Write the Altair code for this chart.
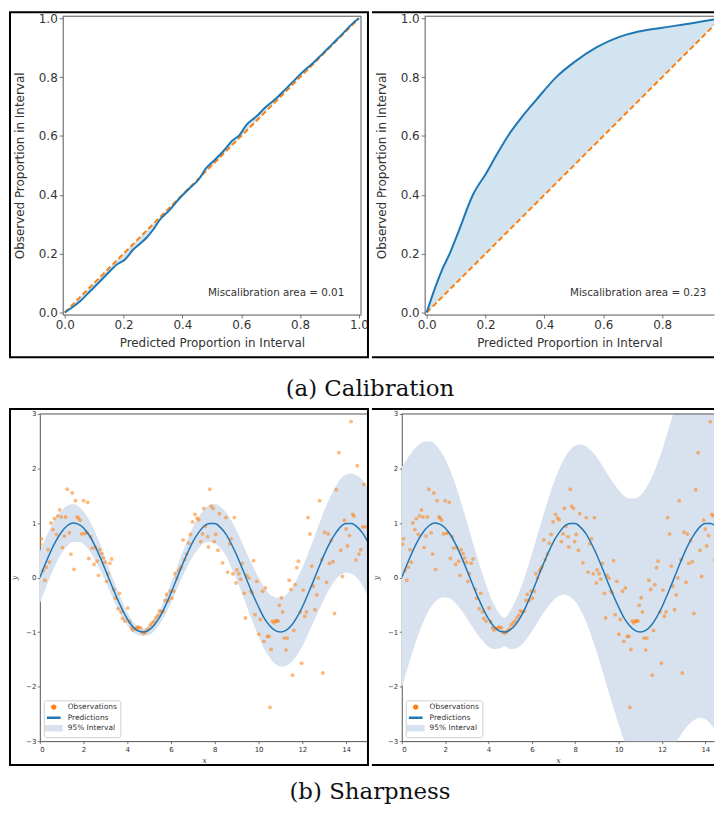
import altair as alt
import pandas as pd

cal_left_x = [0.0, 0.025, 0.053, 0.087, 0.121, 0.154, 0.177, 0.205, 0.233, 0.256,
              0.278, 0.301, 0.324, 0.357, 0.391, 0.425, 0.459, 0.476, 0.504, 0.538,
              0.572, 0.594, 0.617, 0.650, 0.684, 0.718, 0.752, 0.786, 0.808, 0.842,
              0.876, 0.910, 0.944, 0.977, 1.0]
cal_left_y = [0.0, 0.017, 0.039, 0.073, 0.107, 0.141, 0.163, 0.180, 0.214, 0.234,
              0.254, 0.282, 0.316, 0.349, 0.389, 0.423, 0.457, 0.485, 0.513, 0.547,
              0.586, 0.603, 0.637, 0.665, 0.699, 0.727, 0.761, 0.795, 0.817, 0.846,
              0.879, 0.913, 0.947, 0.981, 1.0]
cal_right_x = [0.0, 0.02, 0.05, 0.078, 0.11, 0.157, 0.2, 0.24, 0.276, 0.32,
               0.37, 0.44, 0.5, 0.575, 0.65, 0.72, 0.8, 0.9, 1.0]
cal_right_y = [0.0, 0.06, 0.14, 0.20, 0.28, 0.40, 0.47, 0.54, 0.60, 0.66,
               0.72, 0.80, 0.85, 0.90, 0.935, 0.955, 0.968, 0.983, 1.0]
diag = [0.0, 1.0]
cal_labels = ["Miscalibration area = 0.01", "Miscalibration area = 0.23"]

grid_x = [0.0, 0.25, 0.5, 0.75, 1.0, 1.25, 1.5, 1.75, 2.0, 2.25, 2.5, 2.75, 3.0, 3.25,
          3.5, 3.75, 4.0, 4.25, 4.5, 4.75, 5.0, 5.25, 5.5, 5.75, 6.0, 6.25, 6.5, 6.75,
          7.0, 7.25, 7.5, 7.75, 8.0, 8.25, 8.5, 8.75, 9.0, 9.25, 9.5, 9.75, 10.0, 10.25,
          10.5, 10.75, 11.0, 11.25, 11.5, 11.75, 12.0, 12.25, 12.5, 12.75, 13.0, 13.25,
          13.5, 13.75, 14.0, 14.25, 14.5, 14.75, 15.0]
pred = [0.00, 0.25, 0.48, 0.68, 0.84, 0.95, 1.00, 0.98, 0.91, 0.78, 0.60, 0.38, 0.14, -0.11,
        -0.35, -0.57, -0.76, -0.90, -0.98, -1.00, -0.96, -0.86, -0.71, -0.51, -0.28, -0.03,
        0.22, 0.45, 0.66, 0.82, 0.94, 0.99, 0.99, 0.92, 0.80, 0.62, 0.41, 0.17, -0.08, -0.32,
        -0.54, -0.74, -0.88, -0.97, -1.00, -0.97, -0.88, -0.73, -0.54, -0.31, -0.07, 0.18,
        0.42, 0.63, 0.80, 0.93, 0.99, 0.99, 0.93, 0.82, 0.65]
half_left = [0.48, 0.46, 0.44, 0.42, 0.39, 0.37, 0.35, 0.33, 0.30, 0.28, 0.26, 0.24, 0.21,
             0.19, 0.17, 0.15, 0.12, 0.10, 0.08, 0.07, 0.09, 0.11, 0.13, 0.16, 0.18, 0.20,
             0.22, 0.25, 0.27, 0.29, 0.31, 0.34, 0.36, 0.38, 0.40, 0.43, 0.45, 0.47, 0.49,
             0.52, 0.54, 0.56, 0.58, 0.61, 0.63, 0.65, 0.67, 0.70, 0.72, 0.74, 0.76, 0.79,
             0.81, 0.83, 0.85, 0.88, 0.90, 0.92, 0.94, 0.97, 0.99]
half_right = [2.03, 1.93, 1.84, 1.74, 1.65, 1.55, 1.46, 1.36, 1.27, 1.17, 1.08, 0.98, 0.89,
              0.79, 0.70, 0.60, 0.51, 0.41, 0.32, 0.26, 0.35, 0.44, 0.53, 0.62, 0.71, 0.80,
              0.89, 0.98, 1.07, 1.16, 1.25, 1.34, 1.43, 1.52, 1.61, 1.70, 1.79, 1.88, 1.97,
              2.06, 2.15, 2.24, 2.33, 2.42, 2.51, 2.60, 2.69, 2.78, 2.87, 2.96, 3.05, 3.14,
              3.23, 3.32, 3.41, 3.50, 3.59, 3.68, 3.77, 3.86, 3.95]

obs_x = [0.03, 0.08, 0.15, 0.23, 0.30, 0.38, 0.44, 0.51, 0.60, 0.67, 0.76, 0.82, 0.91, 0.98,
         1.03, 1.12, 1.18, 1.25, 1.35, 1.42, 1.48, 1.56, 1.63, 1.71, 1.77, 1.84, 1.92, 2.00,
         2.06, 2.15, 2.19, 2.24, 2.33, 2.39, 2.48, 2.54, 2.62, 2.68, 2.74, 2.83, 2.90, 2.98,
         3.05, 3.11, 3.20, 3.28, 3.39, 3.45, 3.57, 3.64, 3.72, 3.78, 3.89, 4.02, 4.10, 4.19,
         4.25, 4.37, 4.45, 4.50, 4.60, 4.67, 4.75, 4.82, 4.90, 4.97, 5.05, 5.14, 5.22, 5.31,
         5.40, 5.47, 5.56, 5.64, 5.73, 5.79, 5.87, 5.97, 6.03, 6.12, 6.18, 6.26, 6.35, 6.41,
         6.47, 6.55, 6.62, 6.71, 6.80, 6.89, 6.98, 7.09, 7.18, 7.26, 7.36, 7.44, 7.50, 7.57,
         7.67, 7.71, 7.77, 7.83, 7.92, 7.97, 8.04, 8.15, 8.21, 8.35, 8.51, 8.59, 8.68, 8.75,
         8.83, 8.89, 8.97, 9.01, 9.10, 9.18, 9.25, 9.34, 9.40, 9.46, 9.56, 9.65, 9.71, 9.77,
         9.84, 9.92, 10.01, 10.08, 10.18, 10.24, 10.31, 10.40, 10.48, 10.52, 10.57, 10.63,
         10.70, 10.77, 10.83, 10.89, 10.95, 11.04, 11.10, 11.17, 11.25, 11.31, 11.40, 11.48,
         11.55, 11.61, 11.67, 11.75, 11.82, 11.91, 11.97, 12.04, 12.11, 12.19, 12.26, 12.35,
         12.43, 12.50, 12.58, 12.66, 12.73, 12.79, 12.88, 12.94, 13.02, 13.11, 13.18, 13.24,
         13.32, 13.40, 13.47, 13.55, 13.67, 13.76, 13.83, 13.92, 14.00, 14.06, 14.15, 14.23,
         14.30, 14.36, 14.44, 14.51, 14.59, 14.67, 14.76, 14.82, 14.88]
obs_y = [0.61, 0.71, 0.13, -0.05, 0.19, 0.51, 0.28, 1.00, 0.88, 1.08, 0.79, 1.13, 1.24, 1.11,
         0.55, 0.76, 1.11, 1.62, 0.82, 0.43, 1.55, 0.15, 1.41, 1.11, 1.09, 1.05, 0.80, 1.41,
         0.81, 0.82, 1.38, 0.35, 0.75, 0.54, 0.24, 0.55, 0.30, 0.04, 0.51, 0.44, 0.36, 0.28,
         -0.07, 0.07, 0.26, 0.34, -0.22, -0.38, -0.57, -0.29, -0.63, -0.75, -0.80, -0.56, -0.81,
         -0.92, -0.96, -0.94, -0.92, -0.91, -0.92, -1.00, -1.02, -1.00, -0.97, -0.94, -0.87,
         -0.83, -0.80, -0.74, -0.69, -0.61, -0.63, -0.62, -0.42, -0.31, -0.42, -0.25, -0.38,
         -0.25, 0.07, -0.01, 0.12, 0.16, 0.20, 0.69, 0.33, 0.43, 0.63, 0.79, 1.02, 1.16, 1.09,
         1.06, 0.66, 0.80, 1.27, 0.94, 0.75, 0.56, 1.62, 1.31, 1.27, 0.66, 0.79, 0.50, 1.17,
         0.27, 1.10, 0.10, 0.62, 0.71, 0.07, 1.10, -0.10, 0.14, 0.07, -0.03, 0.26, -0.29, -0.74,
         0.04, -0.01, -0.25, -0.28, 0.31, -0.68, -0.07, -1.04, -0.77, -0.25, -1.17, -0.19, -1.08,
         -1.08, -2.38, -1.32, -0.80, -0.83, -0.80, -0.79, -0.80, -0.51, -0.37, -0.63, -1.11,
         -1.33, -1.11, -0.05, -0.22, -1.79, -0.97, -0.13, 0.18, 0.30, -0.63, -1.57, -0.23, -0.71,
         -0.63, 1.10, 0.80, 0.21, -0.16, -0.59, -0.32, -0.01, 1.41, 0.33, -1.75, 0.83, -0.09,
         0.80, 0.26, 0.68, 0.29, -0.66, 1.61, 2.29, 0.50, 0.02, 1.05, 0.89, 0.58, 0.77, 2.86,
         1.16, 1.13, 0.32, 2.05, 0.43, 0.51, 0.93, 1.71, 0.93]

series = ["Observations", "Predictions", "95% Interval"]
cal_ticks = [0.0, 0.2, 0.4, 0.6, 0.8, 1.0]
sh_xticks = [0, 2, 4, 6, 8, 10, 12, 14]
sh_yticks = [-3, -2, -1, 0, 1, 2, 3]

BLUE = "#1f77b4"
ORANGE = "#ff7f0e"
BAND = "#d8e2ef"
SPINE = "#555555"
TXT = "#333333"
FONT = "DejaVu Sans"
one = pd.DataFrame({"k": [0]})


def cal_panel(cx, cy, label, pw, lead, xmax, xticks, closed):
    h = 300
    gw = lead + pw
    df = pd.DataFrame({"x": cx, "y": cy})
    ddf = pd.DataFrame({"x": diag, "y": diag})
    tdf = pd.DataFrame({"x": [0.95], "y": [0.065], "t": [label]})
    xs = alt.Scale(domain=[-0.007, xmax], range=[lead, gw], nice=False, zero=False)
    ys = alt.Scale(domain=[-0.007, 1.007], nice=False, zero=False)
    xa = alt.Axis(values=xticks, format=".1f", title="Predicted Proportion in Interval",
                  tickSize=3.5, labelFontSize=12, titleFontSize=12, titlePadding=7,
                  labelPadding=2)
    yargs = dict(values=cal_ticks, format=".1f", title="Observed Proportion in Interval",
                 tickSize=3.5, labelFontSize=12, titleFontSize=12, titlePadding=12,
                 labelPadding=2)
    if lead:
        yargs["offset"] = -lead
    X = alt.X("x:Q", scale=xs, axis=xa)
    Y = alt.Y("y:Q", scale=ys, axis=alt.Axis(**yargs))
    area = alt.Chart(df).mark_area(color=BLUE, opacity=0.2, clip=True,
                                   interpolate="monotone").encode(x=X, y=Y, y2=alt.Y2("x:Q"))
    dline = alt.Chart(ddf).mark_line(color=ORANGE, strokeDash=[5.5, 3], strokeWidth=2,
                                     clip=True).encode(x=X, y=Y)
    curve = alt.Chart(df).mark_line(color=BLUE, strokeWidth=2, clip=True,
                                    interpolate="monotone").encode(x=X, y=Y)
    txt = alt.Chart(tdf).mark_text(align="right", baseline="middle", fontSize=10.4, font=FONT,
                                   color=TXT).encode(x=X, y=Y, text="t:N")
    top = alt.Chart(one).mark_rule(color=SPINE, strokeWidth=1).encode(
        x=alt.value(lead), x2=alt.value(gw), y=alt.value(0))
    layers = [area, dline, curve, txt, top]
    if closed:
        right = alt.Chart(one).mark_rule(color=SPINE, strokeWidth=1).encode(
            x=alt.value(gw), y=alt.value(0), y2=alt.value(h))
        frame = alt.Chart(one).mark_rect(fillOpacity=0, stroke="black", strokeWidth=2).encode(
            x=alt.value(lead - 53), x2=alt.value(lead + 307), y=alt.value(-4), y2=alt.value(343))
        layers += [right, frame]
    else:
        for yy in (-4, 343):
            layers.append(alt.Chart(one).mark_rule(color="black", strokeWidth=2).encode(
                x=alt.value(-53), x2=alt.value(gw), y=alt.value(yy)))
    return alt.layer(*layers).properties(width=gw, height=h)


def sh_axis(title, values, pad):
    return alt.Axis(values=values, title=title, tickSize=2.5,
                    labelFontSize=7, titleFontSize=8, titleFontStyle="italic",
                    titleFont="DejaVu Serif", labelPadding=1.5, titlePadding=pad)


def sharp_panel(half, w, xmax, closed):
    h = 329
    band = pd.DataFrame({"x": grid_x,
                         "y": [p - d for p, d in zip(pred, half)],
                         "hi": [p + d for p, d in zip(pred, half)],
                         "s": "95% Interval"})
    pdf = pd.DataFrame({"x": grid_x, "y": pred, "s": "Predictions"})
    odf = pd.DataFrame({"x": obs_x, "y": obs_y, "s": "Observations"})
    xs = alt.Scale(domain=[0, xmax], nice=False, zero=False)
    ys = alt.Scale(domain=[-3, 3], nice=False, zero=False)
    cs = alt.Scale(domain=series, range=[ORANGE, BLUE, BAND])
    shp = alt.Scale(domain=series, range=["circle",
                                          "M-1.35,-0.11L1.35,-0.11L1.35,0.11L-1.35,0.11Z",
                                          "M-1.35,-0.42L1.35,-0.42L1.35,0.42L-1.35,0.42Z"])
    szs = alt.Scale(domain=series, range=[15, 150, 150])
    leg = alt.Legend(title=None, orient="bottom-left", offset=4, padding=3, labelFontSize=7.5,
                     labelFont=FONT, labelColor=TXT, fillColor="white", strokeColor="#d0d0d0",
                     cornerRadius=2, rowPadding=0, labelOffset=7)
    X = alt.X("x:Q", scale=xs, axis=sh_axis("x", [v for v in sh_xticks if v <= xmax], 4))
    Y = alt.Y("y:Q", scale=ys, axis=sh_axis("y", sh_yticks, 7))
    C = alt.Color("s:N", scale=cs, legend=leg)
    area = alt.Chart(band).mark_area(clip=True, interpolate="monotone").encode(
        x=X, y=Y, y2=alt.Y2("hi:Q"), color=C)
    pts = alt.Chart(odf).mark_point(filled=True, clip=True, fillOpacity=0.55).encode(
        x=X, y=Y, color=C,
        shape=alt.Shape("s:N", scale=shp, legend=leg),
        size=alt.Size("s:N", scale=szs, legend=leg))
    line = alt.Chart(pdf).mark_line(clip=True, strokeWidth=1.5, interpolate="monotone").encode(
        x=X, y=Y, color=C)
    top = alt.Chart(one).mark_rule(color=SPINE, strokeWidth=1).encode(
        x=alt.value(0), x2=alt.value(w), y=alt.value(0))
    layers = [area, pts, line, top]
    if closed:
        right = alt.Chart(one).mark_rule(color=SPINE, strokeWidth=1).encode(
            x=alt.value(w), y=alt.value(0), y2=alt.value(h))
        frame = alt.Chart(one).mark_rect(fillOpacity=0, stroke="black", strokeWidth=2).encode(
            x=alt.value(-30), x2=alt.value(330), y=alt.value(-5), y2=alt.value(353))
        layers += [right, frame]
    else:
        for yy in (-5, 353):
            layers.append(alt.Chart(one).mark_rule(color="black", strokeWidth=2).encode(
                x=alt.value(-30), x2=alt.value(w), y=alt.value(yy)))
    return alt.layer(*layers).properties(width=w, height=h)


def caption(text, h, y):
    df = pd.DataFrame({"t": [text]})
    return alt.Chart(df).mark_text(font="DejaVu Serif", fontSize=23, color="#111111",
                                   align="center", baseline="middle").encode(
        text="t:N", x=alt.value(332), y=alt.value(y)).properties(width=1, height=h)


p1 = cal_panel(cal_left_x, cal_left_y, cal_labels[0], 300, 23, 1.007, cal_ticks, True)
p2 = cal_panel(cal_right_x, cal_right_y, cal_labels[1], 291, 0, 0.976, cal_ticks[:-1], False)
row1 = alt.hconcat(p1, p2, spacing=0).resolve_scale(x="independent", y="independent")

p3 = sharp_panel(half_left, 330, 15.0, True)
p4 = sharp_panel(half_right, 314, 14.4, False)
row2 = alt.hconcat(p3, p4, spacing=0).resolve_scale(
    x="independent", y="independent", color="independent",
    shape="independent", size="independent")

chart = alt.vconcat(row1, caption("(a) Calibration", 46, 29), row2,
                    caption("(b) Sharpness", 40, 24), spacing=0).properties(
    padding=0, background="white").configure_view(
    stroke="transparent").configure_axis(
    grid=False, labelFont=FONT, titleFont=FONT, labelColor=TXT, titleColor=TXT,
    domainColor=SPINE, tickColor=SPINE, tickWidth=0.8, domainWidth=1,
    titleFontWeight="normal")

chart.save("out.html", embed_options={"renderer": "svg", "actions": False})
